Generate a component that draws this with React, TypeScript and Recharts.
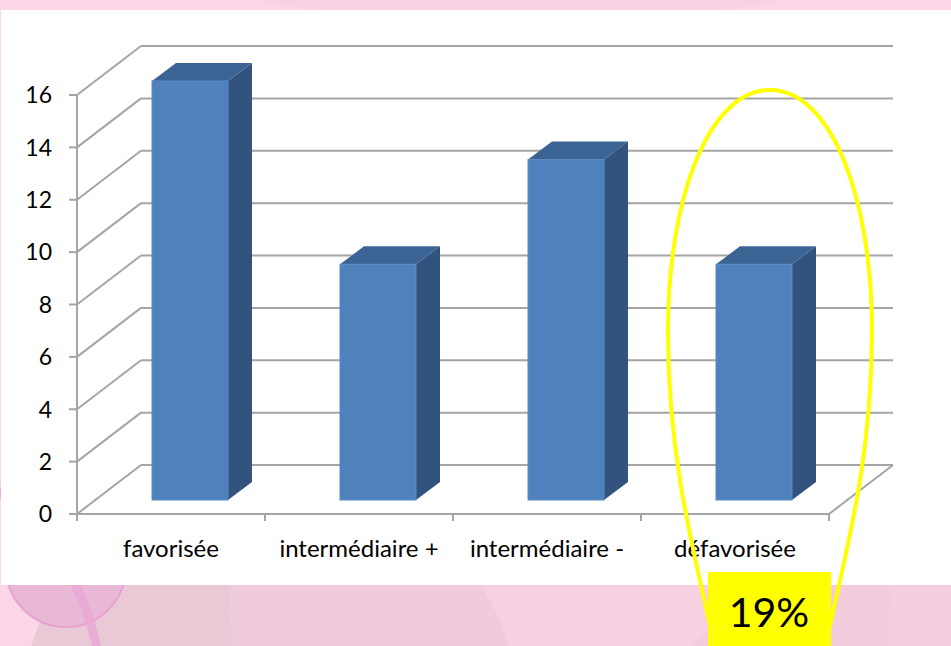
import React from 'react';
import { BarChart, Bar, XAxis, YAxis, CartesianGrid } from 'recharts';

const categories = ['favorisée', 'intermédiaire +', 'intermédiaire -', 'défavorisée'];
const counts = [16, 9, 13, 9];
const yTicks = [0, 2, 4, 6, 8, 10, 12, 14, 16];
const highlightLabel = '19%';

const data = categories.map((name, i) => ({ name, value: counts[i] }));

const W = 951;
const H = 646;
const PLOT_LEFT = 77;
const PLOT_RIGHT = 829;
const PLOT_TOP = 95;
const PLOT_BOTTOM = 514;
const BAND = (PLOT_RIGHT - PLOT_LEFT) / categories.length;

// 3D depth of the whole floor and of each bar
const DEPTH_X = 64;
const DEPTH_Y = -49;
const BAR_DX = 19;
const BAR_DY = -14;
const BAR_DEPTH_X = 24;
const BAR_DEPTH_Y = -18;

const FONT = 'Lato, "Open Sans", sans-serif';
const GRID = '#a5a5a5';

const Bar3D = (props: any) => {
  const { x, y, width, height } = props;
  if (height == null || height <= 0) return null;
  const fx = x + BAR_DX;
  const fy = y + BAR_DY;
  const top = `${fx},${fy} ${fx + BAR_DEPTH_X},${fy + BAR_DEPTH_Y} ${fx + width + BAR_DEPTH_X},${fy + BAR_DEPTH_Y} ${fx + width},${fy}`;
  const side = `${fx + width},${fy} ${fx + width + BAR_DEPTH_X},${fy + BAR_DEPTH_Y} ${fx + width + BAR_DEPTH_X},${fy + height + BAR_DEPTH_Y} ${fx + width},${fy + height}`;
  return (
    <g>
      <polygon points={side} fill="#31537d" />
      <polygon points={top} fill="#3b6495" />
      <rect x={fx} y={fy} width={width} height={height} fill="#4f81bd" stroke="#5a8ac4" strokeWidth={1} />
    </g>
  );
};

const gridLine = (props: any) => {
  const { x1, y1, x2, key } = props;
  const by = y1 + DEPTH_Y;
  const isFloor = Math.abs(y1 - PLOT_BOTTOM) < 1;
  return (
    <g key={key}>
      <line x1={x1} y1={y1} x2={x1 + DEPTH_X} y2={by} stroke={GRID} strokeWidth={2} />
      <line x1={x1 + DEPTH_X} y1={by} x2={x2 + DEPTH_X} y2={by} stroke={GRID} strokeWidth={2} />
      {isFloor && <line x1={x2} y1={y1} x2={x2 + DEPTH_X} y2={by} stroke={GRID} strokeWidth={2} />}
    </g>
  );
};

const XTick = (props: any) => {
  const { x, y, payload, index } = props;
  const last = index === categories.length - 1;
  return (
    <g>
      <line x1={x - BAND / 2} y1={y} x2={x - BAND / 2} y2={y + 7} stroke={GRID} strokeWidth={2} />
      {last && <line x1={x + BAND / 2} y1={y} x2={x + BAND / 2} y2={y + 7} stroke={GRID} strokeWidth={2} />}
      <text x={x} y={y + 43} textAnchor="middle" fontSize={24} fontFamily={FONT} fill="#000">
        {payload.value}
      </text>
    </g>
  );
};

const YTick = (props: any) => {
  const { x, y, payload } = props;
  return (
    <text x={x} y={y} dy="0.36em" textAnchor="end" fontSize={23} fontFamily={FONT} fill="#000">
      {payload.value}
    </text>
  );
};

export default function App() {
  return (
    <div style={{ position: 'absolute', left: 0, top: 0, width: W, height: H, overflow: 'hidden', background: '#fcd5e6' }}>
      <svg width={W} height={H} style={{ position: 'absolute', left: 0, top: 0 }}>
        <circle cx={270} cy={720} r={250} fill="#e3c3d0" opacity={0.7} />
        <circle cx={560} cy={600} r={330} fill="#f3cddd" opacity={0.6} />
        <circle cx={885} cy={790} r={240} fill="#f0c9da" opacity={0.55} />
        <circle cx={66} cy={567} r={60} fill="#e8b8d6" stroke="#e9a0d2" strokeWidth={2} />
        <circle cx={-160} cy={700} r={262} fill="none" stroke="#eaa6d6" strokeWidth={9} opacity={0.8} />
        <ellipse cx={520} cy={-20} rx={300} ry={40} fill="#f6cfe0" opacity={0.7} />
      </svg>
      <div style={{ position: 'absolute', left: 1, top: 10, width: 950, height: 575, background: '#ffffff' }} />
      <div style={{ position: 'absolute', left: 0, top: 0 }}>
        <BarChart
          width={W}
          height={H}
          data={data}
          margin={{ top: PLOT_TOP, right: W - PLOT_RIGHT, bottom: H - PLOT_BOTTOM - 40, left: 0 }}
          barSize={76}
        >
          <CartesianGrid vertical={false} horizontal={gridLine} />
          <XAxis
            dataKey="name"
            height={40}
            tickLine={false}
            tickSize={0}
            tickMargin={0}
            interval={0}
            axisLine={{ stroke: GRID, strokeWidth: 2 }}
            tick={<XTick />}
          />
          <YAxis
            width={PLOT_LEFT}
            domain={[0, 16]}
            ticks={yTicks}
            interval={0}
            tickSize={8}
            tickMargin={17}
            axisLine={{ stroke: GRID, strokeWidth: 2 }}
            tickLine={{ stroke: GRID, strokeWidth: 2 }}
            tick={<YTick />}
          />
          <Bar dataKey="value" shape={<Bar3D />} isAnimationActive={false} />
        </BarChart>
      </div>
      <svg width={W} height={H} style={{ position: 'absolute', left: 0, top: 0, pointerEvents: 'none' }}>
        <path
          d="M770,90 C832,90 872,200 872,330 C872,450 852,530 822,660 L718,660 C688,530 668,450 668,330 C668,200 708,90 770,90 Z"
          fill="none"
          stroke="#ffff00"
          strokeWidth={4}
        />
        <rect x={708} y={572} width={123} height={80} fill="#ffff00" />
        <text x={769} y={627} textAnchor="middle" fontSize={41} fontFamily={FONT} fill="#000">
          {highlightLabel}
        </text>
      </svg>
    </div>
  );
}
